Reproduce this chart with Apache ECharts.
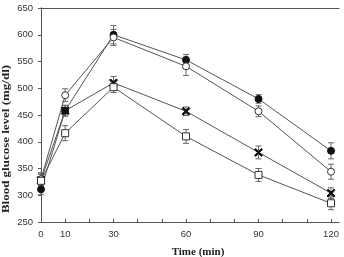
<!DOCTYPE html>
<html>
<head>
<meta charset="utf-8">
<script src="https://cdn.jsdelivr.net/npm/echarts@6/dist/echarts.min.js"></script>
<style>
  html, body { margin: 0; padding: 0; background: #fff; }
  #chart { width: 344px; height: 257px; }
</style>
</head>
<body>
<div id="chart"></div>
<script>
// time points (min)
var times = [0, 10, 30, 60, 90, 120];
var xLabels = [0, 10, 30, 60, 90, 120];

// blood glucose means
var filledCircle = [311, 458, 600, 553, 480, 383];
var openCircle = [330, 487, 595, 541, 457, 344];
var cross = [328, 458, 510, 457, 380, 304];
var openSquare = [327, 416, 502, 410, 338, 285];

// error (SEM)
var filledCircleErr = [10, 10, 17, 10, 8, 15];
var openCircleErr = [12, 12, 15, 17, 10, 14];
var crossErr = [12, 10, 12, 8, 12, 10];
var openSquareErr = [12, 14, 10, 13, 12, 12];

var lineColor = '#555';
var crossPath = 'path://M0,1.4L1.4,0L5,3.6L8.6,0L10,1.4L6.4,5L10,8.6L8.6,10L5,6.4L1.4,10L0,8.6L3.6,5Z';

function pts(vals) {
    return times.map(function (t, i) { return [t, vals[i]]; });
}
function errPts(vals, errs) {
    return times.map(function (t, i) { return [t, vals[i], errs[i]]; });
}

function errorBar(vals, errs) {
    return {
        type: 'custom',
        data: errPts(vals, errs),
        z: 1,
        renderItem: function (params, api) {
            var x = api.value(0), y = api.value(1), e = api.value(2);
            var hi = api.coord([x, y + e]);
            var lo = api.coord([x, y - e]);
            var w = 3;
            var st = { stroke: '#666', lineWidth: 1 };
            return {
                type: 'group',
                children: [
                    { type: 'line', shape: { x1: hi[0], y1: hi[1], x2: lo[0], y2: lo[1] }, style: st },
                    { type: 'line', shape: { x1: hi[0] - w, y1: hi[1], x2: hi[0] + w, y2: hi[1] }, style: st },
                    { type: 'line', shape: { x1: lo[0] - w, y1: lo[1], x2: lo[0] + w, y2: lo[1] }, style: st }
                ]
            };
        }
    };
}

function lineSeries(vals, symbol, size, fill, border) {
    return {
        type: 'line',
        data: pts(vals),
        symbol: symbol,
        symbolSize: size,
        showAllSymbol: true,
        z: 3,
        lineStyle: { color: lineColor, width: 1 },
        itemStyle: { color: fill, borderColor: border, borderWidth: 1 },
        emphasis: { disabled: true }
    };
}

var chart = echarts.init(document.getElementById('chart'));
chart.setOption({
    animation: false,
    backgroundColor: '#fff',
    grid: { left: 41, right: 5, top: 8, bottom: 35, containLabel: false, outerBoundsMode: 'none' },
    graphic: [{
        type: 'text',
        x: 6,
        y: 139,
        rotation: Math.PI / 2,
        scaleX: 1.18,
        style: {
            text: 'Blood glucose level (mg/dl)',
            font: 'bold 11px "Liberation Serif"',
            fill: '#222',
            align: 'center',
            verticalAlign: 'middle'
        }
    }],
    xAxis: [{
        type: 'value',
        min: 0,
        max: 123.3,
        interval: 10,
        name: 'Time (min)',
        nameLocation: 'middle',
        nameGap: 25,
        nameTextStyle: { fontFamily: 'Liberation Serif', fontWeight: 'bold', fontSize: 11, color: '#222', padding: [0, 0, 0, 16] },
        axisLine: { onZero: false, lineStyle: { color: '#555' } },
        axisTick: { inside: true, length: 3, lineStyle: { color: '#555' } },
        splitLine: { show: false },
        axisLabel: {
            fontFamily: 'Liberation Sans', fontSize: 9.5, color: '#333', margin: 7,
            showMaxLabel: false,
            formatter: function (v) { return xLabels.indexOf(v) >= 0 ? String(v) : ''; }
        }
    }, {
        type: 'value',
        position: 'top',
        min: 0,
        max: 123.3,
        axisLine: { lineStyle: { color: '#555' } },
        axisTick: { show: false },
        axisLabel: { show: false },
        splitLine: { show: false }
    }],
    yAxis: [{
        type: 'value',
        min: 250,
        max: 650,
        interval: 50,
        axisLine: { show: true, lineStyle: { color: '#555' } },
        axisTick: { show: true, length: 3, lineStyle: { color: '#555' } },
        splitLine: { show: false },
        axisLabel: { fontFamily: 'Liberation Sans', fontSize: 9.5, color: '#333', margin: 8 }
    }, {
        type: 'value',
        position: 'right',
        min: 250,
        max: 650,
        interval: 50,
        axisLine: { show: true, lineStyle: { color: '#555' } },
        axisTick: { show: true, inside: true, length: 3, lineStyle: { color: '#555' } },
        axisLabel: { show: false },
        splitLine: { show: false }
    }],
    series: [
        errorBar(filledCircle, filledCircleErr),
        errorBar(openCircle, openCircleErr),
        errorBar(cross, crossErr),
        errorBar(openSquare, openSquareErr),
        lineSeries(filledCircle, 'circle', 7, '#111', '#111'),
        lineSeries(openCircle, 'circle', 7, '#fff', '#333'),
        lineSeries(cross, crossPath, 8, '#111', '#111'),
        lineSeries(openSquare, 'rect', 7, '#fff', '#333')
    ]
});
</script>
</body>
</html>
